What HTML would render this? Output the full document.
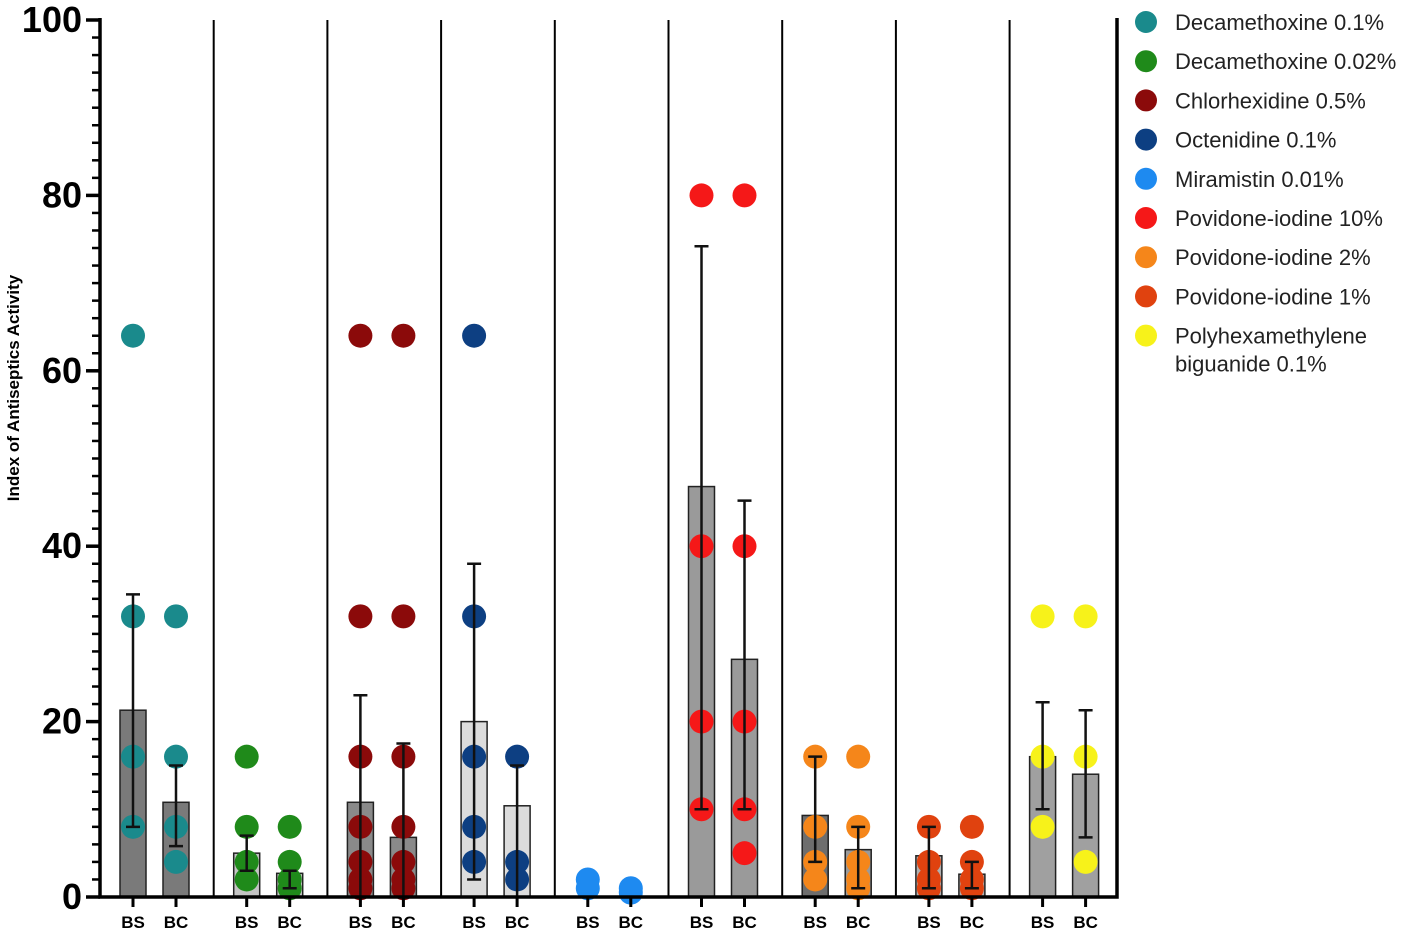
<!DOCTYPE html><html><head><meta charset="utf-8"><style>body{margin:0;background:#fff}svg{font-family:"Liberation Sans",Arial,sans-serif}</style></head><body>
<svg id="c" width="1417" height="932"></svg>
<script>
const groups=["Decamethoxine 0.1%","Decamethoxine 0.02%","Chlorhexidine 0.5%","Octenidine 0.1%","Miramistin 0.01%","Povidone-iodine 10%","Povidone-iodine 2%","Povidone-iodine 1%","Polyhexamethylene biguanide 0.1%"];
const colors=["#1a8a8c","#1f8a1a","#8b0a0a","#0d3f82","#1e8af0","#f51818","#f5861a","#e0420f","#f7f21a"];
const meansBS=[21.3,5,10.8,20,0,46.8,9.3,4.7,16];
const meansBC=[10.8,2.7,6.8,10.4,0,27.1,5.4,2.6,14];
const errHiBS=[34.5,7,23,38,0,74.2,16,8,22.2];
const errLoBS=[8,3,0,2,0,10,4,1,10];
const errHiBC=[15,3,17.5,15,0,45.2,8,4,21.3];
const errLoBC=[5.8,1,0,0,0,10,1,1,6.8];
const barFillBS=["#7a7a7a","#c4c4c4","#8a8a8a","#dcdcdc","#fff","#9a9a9a","#6e6e6e","#b0b0b0","#a0a0a0"];
const barFillBC=["#7a7a7a","#c4c4c4","#8a8a8a","#dcdcdc","#fff","#9a9a9a","#9a9a9a","#b0b0b0","#a0a0a0"];
const ptsBS=[[64,32,16,8],[16,8,4,2],[64,32,16,8,4,2,1],[64,32,16,8,4],[2,1],[80,40,20,10],[16,8,4,2],[8,4,2,1],[32,16,8]];
const ptsBC=[[32,16,8,4],[8,4,2,1],[64,32,16,8,4,2,1],[16,4,2],[1,0.5],[80,40,20,10,5],[16,8,4,2,1],[8,4,2,1],[32,16,4]];
const yTicks=[0,20,40,60,80,100];
const svg=document.getElementById('c');const NS="http://www.w3.org/2000/svg";
function mk(t,a,p){const e=document.createElementNS(NS,t);for(const k in a)e.setAttribute(k,a[k]);(p||svg).appendChild(e);return e;}
const x0=100,gw=113.7,y=v=>897-v*8.77;
const gx=(i,s)=>x0+gw*i+(s?76:33);
for(let i=1;i<9;i++){const l=mk('line',{x1:x0+gw*i,x2:x0+gw*i,y1:20,y2:897,stroke:'#000','stroke-width':2});
}
groups.forEach((g,i)=>{[[meansBS,errHiBS,errLoBS,barFillBS,ptsBS,0,'BS'],[meansBC,errHiBC,errLoBC,barFillBC,ptsBC,1,'BC']].forEach(([m,eh,el,bf,pts,s,lab])=>{
const cx=gx(i,s);
if(m[i]>0){const b=mk('rect',{x:cx-13,y:y(m[i]),width:26,height:y(0)-y(m[i]),fill:bf[i],stroke:'#222','stroke-width':1.5});
}
pts[i].forEach(v=>{const c=mk('circle',{cx:cx,cy:y(v),r:12,fill:colors[i]});
});
if(eh[i]>0){const e=mk('path',{d:`M${cx},${y(el[i])}V${y(eh[i])}M${cx-7},${y(eh[i])}H${cx+7}`+(el[i]>0?`M${cx-7},${y(el[i])}H${cx+7}`:''),stroke:'#111','stroke-width':2.5,fill:'none'});
}
mk('line',{x1:cx,x2:cx,y1:897,y2:907,stroke:'#000','stroke-width':3});
const t=mk('text',{x:cx,y:928,'text-anchor':'middle','font-size':17,'font-weight':'bold'});t.textContent=lab;
});});
mk('path',{d:'M100,18V897H1117V18',stroke:'#000','stroke-width':3.5,fill:'none'});
for(let v=0;v<=100;v+=2){mk('line',{x1:v%20==0?86:92,x2:100,y1:y(v),y2:y(v),stroke:'#000','stroke-width':v%20==0?3.5:2.5});}
yTicks.forEach(v=>{const t=mk('text',{x:82,y:y(v)+12,'text-anchor':'end','font-size':36,'font-weight':'bold'});t.textContent=v;
});
const yt=mk('text',{transform:'translate(19,388) rotate(-90)','text-anchor':'middle','font-size':17,'font-weight':'bold'});yt.textContent='Index of Antiseptics Activity';

groups.forEach((g,i)=>{const ly=22+39.2*i;const c=mk('circle',{cx:1146,cy:ly,r:11,fill:colors[i]});

const t=mk('text',{x:1175,y:ly+8,'font-size':22,fill:'#222'});

if(i==8){t.textContent='Polyhexamethylene';const t2=mk('text',{x:1175,y:ly+36,'font-size':22,fill:'#222'});t2.textContent='biguanide 0.1%';
}else t.textContent=g;});
</script></body></html>
